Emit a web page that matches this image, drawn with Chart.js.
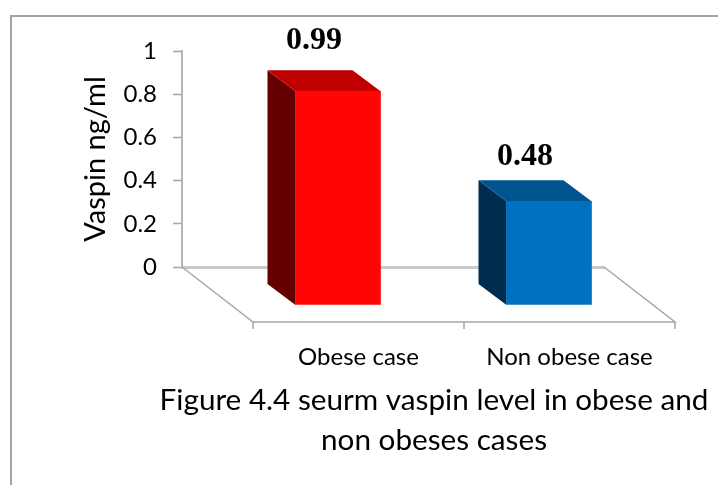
<!DOCTYPE html>
<html>
<head>
<meta charset="utf-8">
<style>
html,body{margin:0;padding:0;background:#fff;overflow:hidden}
#wrap{position:relative;width:718px;height:485px}
canvas{position:absolute;left:0;top:0}
#frame{position:absolute;left:10px;top:15px;right:0;bottom:0;border-top:2px solid #a3a3a3;border-left:2px solid #a3a3a3}
</style>
<script src="https://cdn.jsdelivr.net/npm/chart.js@4"></script>
</head>
<body>
<div id="wrap"><div id="frame"></div><canvas id="c" width="718" height="485"></canvas></div>
<script>
const categories = ['Obese case', 'Non obese case'];
const vaspin = [0.99, 0.48];
const frontColors = ['#ff0505', '#0070c0'];
const topColors = ['#c00000', '#005590'];
const sideColors = ['#640000', '#002d4f'];
const captionLines = ['Figure 4.4 seurm vaspin level in obese and', 'non obeses cases'];
const yAxisTitle = 'Vaspin ng/ml';

const BODY_FONT = 'Lato, "Open Sans", sans-serif';
const floorDepth = {x: 71, y: 55};
const barShift = {x: 50.5, y: 38};
const barDepth = {x: 28, y: 21};
const labelLift = [21, 15];
const labelNudge = 26.5;

const bars3d = {
  id: 'bars3d',
  afterLayout(chart) {
    const t = chart.titleBlock;
    if (t) { t.left = 134; t.right = 734; }
  },
  beforeDatasetsDraw(chart) {
    const {ctx} = chart;
    const sx = chart.scales.x, sy = chart.scales.y;
    const y0 = sy.getPixelForValue(0);
    const d = floorDepth;
    ctx.save();
    ctx.strokeStyle = '#a6a6a6';
    ctx.lineWidth = 1.5;
    ctx.beginPath();
    ctx.moveTo(sx.left, y0); ctx.lineTo(sx.left + d.x, y0 + d.y);
    ctx.lineTo(sx.right + d.x, y0 + d.y); ctx.lineTo(sx.right, y0);
    const step = (sx.right - sx.left) / categories.length;
    for (let i = 0; i <= categories.length; i++) {
      const x = sx.left + d.x + step * i;
      ctx.moveTo(x, y0 + d.y); ctx.lineTo(x, y0 + d.y + 7);
    }
    ctx.stroke();
    ctx.restore();
  },
  beforeDatasetDraw(chart, args) {
    const {ctx} = chart;
    const base = chart.scales.y.getPixelForValue(0);
    args.meta.data.forEach((bar, i) => {
      const p = bar.getProps(['x', 'y', 'width'], true);
      const l = p.x - p.width / 2 + barShift.x, r = p.x + p.width / 2 + barShift.x;
      const t = p.y + barShift.y, b = base + barShift.y;
      ctx.fillStyle = sideColors[i];
      ctx.beginPath();
      ctx.moveTo(l, t); ctx.lineTo(l - barDepth.x, t - barDepth.y);
      ctx.lineTo(l - barDepth.x, b - barDepth.y); ctx.lineTo(l, b);
      ctx.closePath(); ctx.fill();
      ctx.fillStyle = topColors[i];
      ctx.beginPath();
      ctx.moveTo(l, t); ctx.lineTo(l - barDepth.x, t - barDepth.y);
      ctx.lineTo(r - barDepth.x, t - barDepth.y); ctx.lineTo(r, t);
      ctx.closePath(); ctx.fill();
    });
    ctx.save();
    ctx.translate(barShift.x, barShift.y);
  },
  afterDatasetDraw(chart) {
    chart.ctx.restore();
  },
  afterDatasetsDraw(chart) {
    const {ctx} = chart;
    const meta = chart.getDatasetMeta(0);
    ctx.save();
    ctx.font = 'bold 32px "Liberation Serif", serif';
    ctx.fillStyle = '#000';
    ctx.textAlign = 'center';
    ctx.textBaseline = 'alphabetic';
    meta.data.forEach((bar, i) => {
      const p = bar.getProps(['x', 'y'], true);
      const topBack = p.y + barShift.y - barDepth.y;
      ctx.fillText(vaspin[i].toFixed(2), p.x + labelNudge, topBack - labelLift[i]);
    });
    ctx.restore();
  }
};

new Chart(document.getElementById('c'), {
  type: 'bar',
  data: {
    labels: categories,
    datasets: [{
      data: vaspin,
      backgroundColor: frontColors,
      borderWidth: 0,
      barThickness: 85,
      clip: false
    }]
  },
  plugins: [bars3d],
  options: {
    responsive: false,
    animation: false,
    layout: {padding: {left: 78, top: 51, right: 114, bottom: 0}},
    plugins: {
      legend: {display: false},
      tooltip: {enabled: false},
      title: {
        display: true,
        text: captionLines,
        position: 'bottom',
        color: '#000',
        font: {family: BODY_FONT, size: 29.7, weight: 'normal', lineHeight: 40 / 29.7},
        padding: {top: 0, bottom: 25}
      }
    },
    scales: {
      x: {
        grid: {drawOnChartArea: false, drawTicks: false},
        border: {color: '#c9c9c9', width: 3},
        ticks: {
          color: '#000', padding: 76, labelOffset: 71,
          maxRotation: 0, minRotation: 0, autoSkip: false,
          font: {family: BODY_FONT, size: 24}
        },
        afterFit(s) { s.height = 113; }
      },
      y: {
        min: 0, max: 1,
        grid: {drawOnChartArea: false, tickLength: 9, color: '#a6a6a6', tickWidth: 1.5},
        border: {color: '#b5b5b5', width: 2},
        title: {display: true, text: yAxisTitle, color: '#000', padding: 0,
                font: {family: BODY_FONT, size: 29}},
        ticks: {
          stepSize: 0.2, color: '#000', padding: 16,
          font: {family: BODY_FONT, size: 24},
          callback: v => String(+v.toFixed(1))
        },
        afterFit(s) { s.width = 104; }
      }
    }
  }
});
</script>
</body>
</html>
